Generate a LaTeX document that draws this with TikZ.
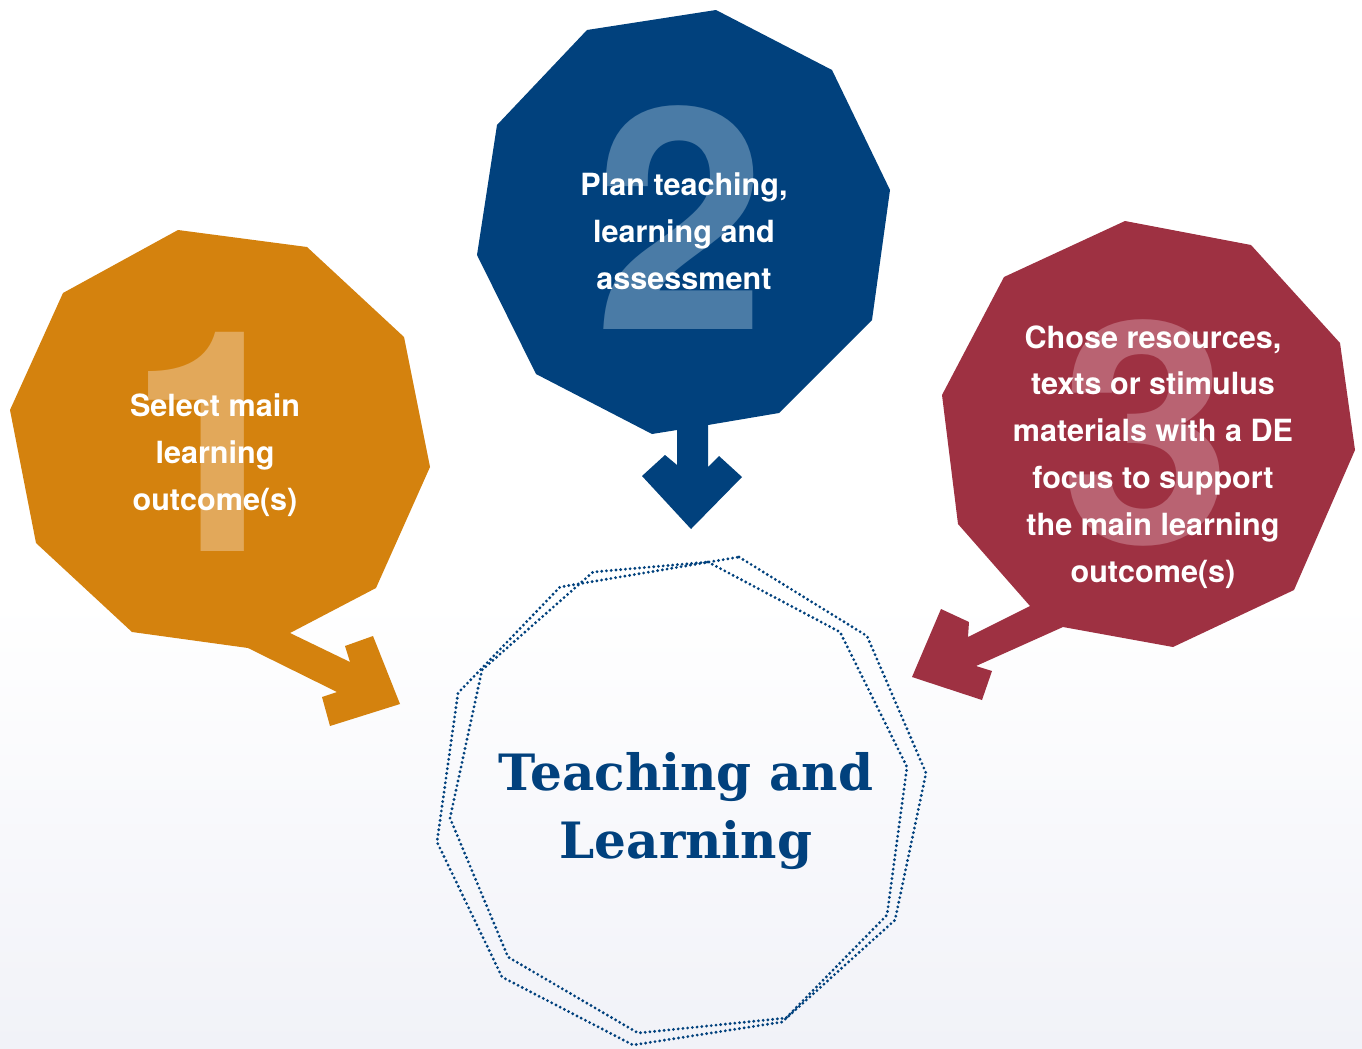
\documentclass[tikz,border=0pt]{standalone}
\usepackage{fontspec}
\setmainfont{TeX Gyre Heros}
\newfontfamily\slabfont{DejaVu Serif}
\definecolor{stepone}{RGB}{212,130,14}
\definecolor{steponelight}{RGB}{226,168,90}
\definecolor{steptwo}{RGB}{1,65,125}
\definecolor{steptwolight}{RGB}{74,123,166}
\definecolor{stepthree}{RGB}{158,49,66}
\definecolor{stepthreelight}{RGB}{185,99,114}
\definecolor{bgbottom}{RGB}{241,242,248}
\tikzset{
  bignum/.style={font=\fontsize{176}{176}\selectfont\bfseries},
  steptext/.style={text=white, align=center, font=\fontsize{17.4}{26.7}\selectfont\bfseries},
  ring/.style={draw=steptwo, line width=1.8pt, dash pattern=on 0pt off 2.7pt, line cap=round}
}
\begin{document}
\begin{tikzpicture}[x=0.02cm, y=-0.02cm]
  \useasboundingbox (0,0) rectangle (1362,1048);
  \fill[white] (0,0) rectangle (1362,600);
  \shade[top color=white, bottom color=bgbottom] (0,600) rectangle (1362,1048);

  \fill[stepone] (178,230) -- (307,247) -- (404,337) -- (430,467) -- (376,588) -- (290,633)
    -- (350,662) -- (345,646) -- (373,636) -- (400,704) -- (330,726) -- (322,697) -- (337,692)
    -- (248,648) -- (132,632) -- (36,543) -- (10,410) -- (63,293) -- cycle;
  \fill[steptwo] (716,10) -- (832,70) -- (890,190) -- (872,320) -- (779,413) -- (708,425)
    -- (708,467) -- (719,456) -- (742,477) -- (691,529) -- (642,476) -- (665,455) -- (677,465)
    -- (677,430) -- (652,434) -- (536,374) -- (477,255) -- (497,125) -- (587,30) -- cycle;
  \fill[stepthree] (1125,221) -- (1251,245) -- (1340,343) -- (1355,450) -- (1294,590) -- (1173,647)
    -- (1063,627) -- (976,666) -- (992,671) -- (982,700) -- (912,677) -- (941,609) -- (969,622)
    -- (968,637) -- (1030,606) -- (958,524) -- (942,395) -- (1004,277) -- cycle;

  \node[bignum, text=steponelight] (numone) at (213,442) {1};
  \node[bignum, text=steptwolight] (numtwo) at (680,218) {2};
  \node[bignum, text=stepthreelight] (numthree) at (1146,433) {3};

  \node[steptext] (select) at (215,455) {Select main\\learning\\outcome(s)};
  \node[steptext] (plan) at (684,231) {Plan teaching,\\learning and\\assessment};
  \node[steptext] (chose) at (1153,457) {Chose resources,\\texts or stimulus\\materials with a DE\\focus to support\\the main learning\\outcome(s)};

  \draw[ring] (739,557) -- (867,636) -- (926,773) -- (895,920) -- (782,1022) -- (633,1045)
    -- (502,977) -- (437,842) -- (458,693) -- (560,587) -- cycle;
  \draw[ring] (708,562) -- (840,632) -- (907,767) -- (887,915) -- (786,1018) -- (638,1033)
    -- (508,957) -- (450,818) -- (482,670) -- (593,572) -- cycle;

  \node[text=steptwo, align=center, font=\slabfont\fontsize{28.5}{39}\selectfont\bfseries] (centre) at (686,811) {Teaching and\\Learning};
\end{tikzpicture}
\end{document}
